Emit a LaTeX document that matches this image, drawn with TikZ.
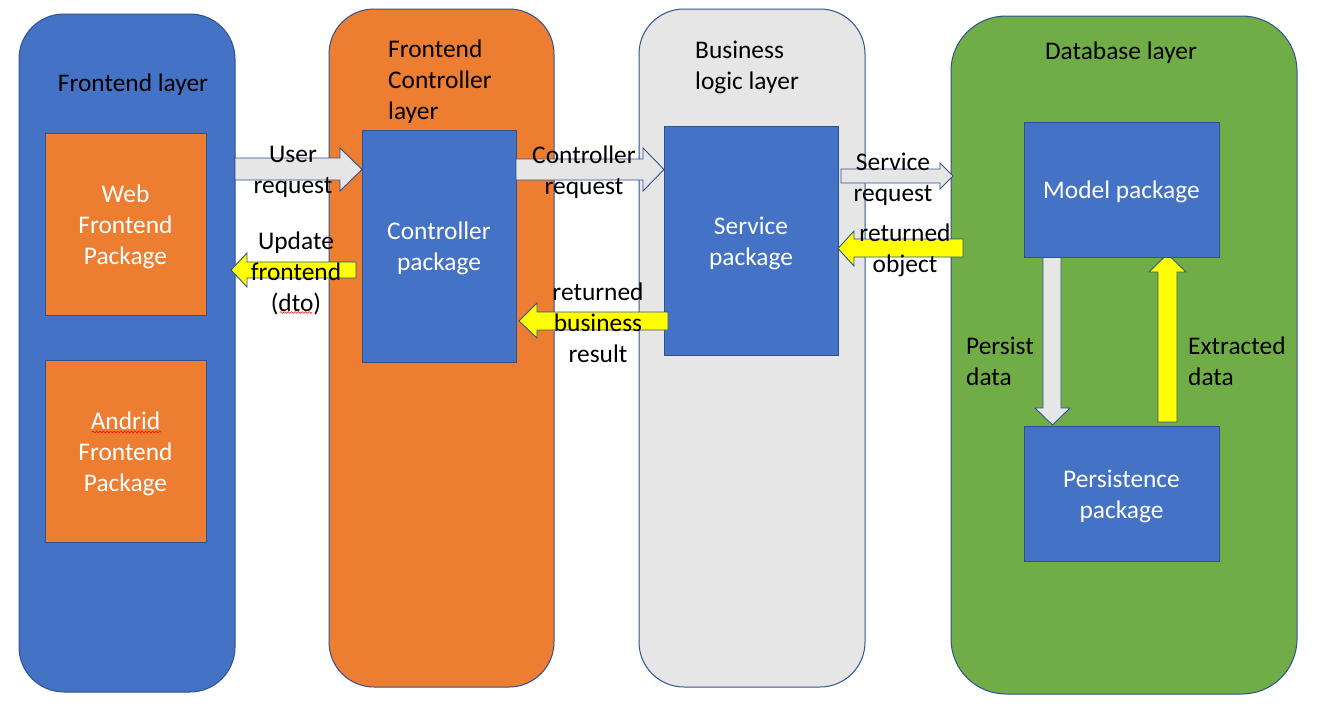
\documentclass[tikz,border=0pt]{standalone}
\usepackage{fontspec}
\setmainfont{Carlito}
\usetikzlibrary{decorations.pathmorphing}
\definecolor{cblue}{HTML}{4472C4}
\definecolor{corange}{HTML}{ED7D31}
\definecolor{cgrey}{HTML}{E7E6E6}
\definecolor{cgreen}{HTML}{70AD47}
\definecolor{cline}{HTML}{2F528F}
\definecolor{cyel}{HTML}{FFFF00}
\newcommand\lfont{\fontsize{25.4}{31}\selectfont}
\begin{document}
\begin{tikzpicture}[x=1pt,y=-1pt,
  layer/.style={draw=cline, line width=1pt, rounded corners=45pt, inner sep=0},
  pkg/.style={draw=cline, line width=1pt, inner sep=0},
  lbl/.style={align=center, font=\lfont, inner sep=0, yshift=-2.5pt},
  plbl/.style={lbl, text=white},
  barrow/.style={draw=cline, line width=0.9pt, line join=miter},
  squig/.style={red, line width=0.6pt, decorate, decoration={snake, amplitude=0.9pt, segment length=3.5pt}}]
\useasboundingbox[fill=white] (0,0) rectangle (1334,710);
% layers
\node[layer, fill=cblue, minimum width=216pt, minimum height=678pt] (fel) at (127,353) {};
\node[layer, fill=corange, minimum width=225pt, minimum height=678pt] (fcl) at (441.5,348) {};
\node[layer, fill=cgrey, minimum width=226pt, minimum height=678pt] (bll) at (752,348) {};
\node[layer, fill=cgreen, rounded corners=55pt, minimum width=346pt, minimum height=678pt] (dbl) at (1124,355) {};
% packages
\node[pkg, fill=corange, minimum width=161pt, minimum height=182pt] (web) at (125.5,224) {};
\node[pkg, fill=corange, minimum width=161pt, minimum height=182pt] (andr) at (125.5,451) {};
\node[pkg, fill=cblue, minimum width=154pt, minimum height=232pt] (ctrl) at (439,246) {};
\node[pkg, fill=cblue, minimum width=174pt, minimum height=229pt] (svc) at (751,240.5) {};
% arrows
\draw[barrow, fill=cgrey] (235,158) -- (340,158) -- (340,148) -- (362,169.5) -- (340,191) -- (340,180) -- (235,180) -- cycle;
\draw[barrow, fill=cgrey] (516,159) -- (643,159) -- (643,148) -- (664,169.5) -- (643,191) -- (643,180) -- (516,180) -- cycle;
\draw[barrow, fill=cyel] (356,262) -- (247,262) -- (247,253) -- (231,270) -- (247,287) -- (247,278) -- (356,278) -- cycle;
\draw[barrow, fill=cyel] (668,312) -- (537,312) -- (537,303) -- (519,321) -- (537,338) -- (537,330) -- (668,330) -- cycle;
\draw[barrow, fill=cgrey] (841,169) -- (940,169) -- (940,163) -- (953,176) -- (940,189) -- (940,183) -- (841,183) -- cycle;
\draw[barrow, fill=cyel] (963,239) -- (854,239) -- (854,231) -- (838,248.5) -- (854,266) -- (854,257) -- (963,257) -- cycle;
\draw[barrow, fill=cgrey] (1043,257) -- (1043,408) -- (1035,408) -- (1052.5,425) -- (1070,408) -- (1061,408) -- (1061,257) -- cycle;
\draw[barrow, fill=cyel] (1158,422) -- (1158,272) -- (1149,272) -- (1167.5,254) -- (1186,272) -- (1177,272) -- (1177,422) -- cycle;
\node[pkg, fill=cblue, minimum width=195pt, minimum height=135pt] (model) at (1121.5,189.5) {};
\node[pkg, fill=cblue, minimum width=195pt, minimum height=135pt] (pers) at (1121.5,493.5) {};
% package texts
\node[plbl] (webt) at (web.center) {Web\\Frontend\\Package};
\node[plbl] (andrt) at (andr.center) {Andrid\\Frontend\\Package};
\node[plbl] (ctrlt) at (ctrl.center) {Controller\\package};
\node[plbl] (svct) at (svc.center) {Service\\package};
\node[plbl] (modelt) at (model.center) {Model package};
\node[plbl] (perst) at (pers.center) {Persistence\\package};
% layer titles
\node[lbl] (t1) at (133,82) {Frontend layer};
\node[lbl, align=left, anchor=west] (t2) at (388,79) {Frontend\\Controller\\layer};
\node[lbl, align=left, anchor=west] (t3) at (695,64.5) {Business\\logic layer};
\node[lbl] (t4) at (1121,50) {Database layer};
% arrow labels
\node[lbl] (l1) at (293,169.5) {User\\request};
\node[lbl] (l2) at (296,270.5) {Update\\frontend\\(dto)};
\node[lbl] (l3) at (584,169.5) {Controller\\request};
\node[lbl] (l4) at (598,320) {returned\\business\\result};
\node[lbl] (l5) at (893,176.5) {Service\\request};
\node[lbl] (l6) at (905,247.5) {returned\\object};
\node[lbl, align=left, anchor=west, yshift=2.5pt] (l7) at (966,361.5) {Persist\\data};
\node[lbl, align=left, anchor=west, yshift=2.5pt] (l8) at (1188,361.5) {Extracted\\data};
% spelling squiggles
\draw[squig] (92,432) -- (161,432);
\draw[squig] (280,312.5) -- (312,312.5);
\end{tikzpicture}
\end{document}
